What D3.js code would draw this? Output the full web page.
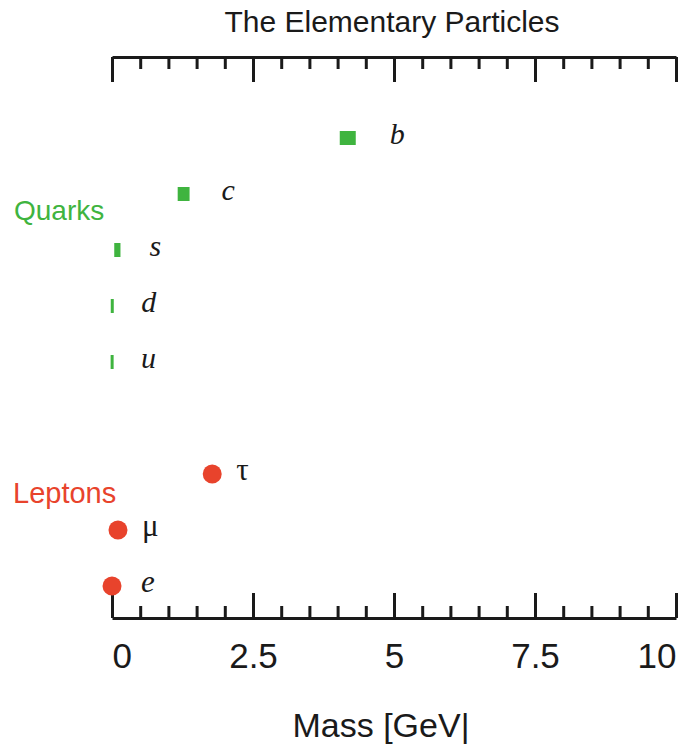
<!DOCTYPE html>
<html>
<head>
<meta charset="utf-8">
<script src="https://cdn.jsdelivr.net/npm/d3@7"></script>
<style>
  body { margin: 0; background: #fff; }
  svg { display: block; }
</style>
</head>
<body>
<div id="chart"></div>
<script>
// Chart values
var quarkNames = ["u", "d", "s", "c", "b"];
var quarkMass = [0.0022, 0.0047, 0.095, 1.27, 4.18]; // GeV
var leptonNames = ["e", "μ", "τ"];
var leptonMass = [0.000511, 0.106, 1.777]; // GeV
var rowOrder = ["e", "μ", "τ", " ", "u", "d", "s", "c", "b"]; // bottom to top, blank row as gap
var majorTicks = [0, 2.5, 5, 7.5, 10];
var minorTicks = d3.range(0.5, 10, 0.5).filter(function(d) { return d % 2.5 !== 0; });

var width = 691, height = 746;
var green = "#3fb43f", red = "#e8432c", ink = "#1a1a1a";

var svg = d3.select("#chart").append("svg")
  .attr("width", width)
  .attr("height", height);

var x = d3.scaleLinear().domain([0, 10]).range([112, 676]);
var y = d3.scalePoint().domain(rowOrder).range([586, 138]);
// rectangle width for quarks grows with mass
var w = d3.scalePow().exponent(0.25).domain([0, 4.18]).range([0, 16]);

var topY = 57, bottomY = 618;

// Top axis: ticks pointing down, no labels
svg.append("g")
  .attr("class", "axis top")
  .attr("transform", "translate(0," + topY + ")")
  .call(d3.axisTop(x).tickValues(majorTicks).tickSizeInner(-25).tickSizeOuter(0).tickFormat(""));
svg.append("g")
  .attr("class", "axis top minor")
  .attr("transform", "translate(0," + topY + ")")
  .call(d3.axisTop(x).tickValues(minorTicks).tickSizeInner(-12).tickSizeOuter(0).tickFormat(""))
  .select(".domain").remove();

// Bottom axis: ticks pointing up, labels below
var bottom = svg.append("g")
  .attr("class", "axis bottom")
  .attr("transform", "translate(0," + bottomY + ")")
  .call(d3.axisBottom(x).tickValues(majorTicks).tickSizeInner(-25).tickSizeOuter(0)
    .tickPadding(25).tickFormat(function(d) { return d3.format("")(d); }));
svg.append("g")
  .attr("class", "axis bottom minor")
  .attr("transform", "translate(0," + bottomY + ")")
  .call(d3.axisBottom(x).tickValues(minorTicks).tickSizeInner(-12).tickSizeOuter(0).tickFormat(""))
  .select(".domain").remove();

svg.selectAll(".axis path, .axis line")
  .attr("stroke", ink)
  .attr("stroke-width", 3);

bottom.selectAll(".tick text")
  .attr("fill", ink)
  .style("font-family", "Liberation Sans, Arial, sans-serif")
  .style("font-size", "35px")
  .attr("text-anchor", function(d) { return d === 0 ? "start" : (d === 10 ? "end" : "middle"); });

// Title
svg.append("text")
  .attr("x", 392)
  .attr("y", 32)
  .attr("text-anchor", "middle")
  .attr("fill", ink)
  .style("font-family", "Liberation Sans, Arial, sans-serif")
  .style("font-size", "30px")
  .text("The Elementary Particles");

// X axis title
svg.append("text")
  .attr("x", 381)
  .attr("y", 737)
  .attr("text-anchor", "middle")
  .attr("fill", ink)
  .style("font-family", "Liberation Sans, Arial, sans-serif")
  .style("font-size", "34px")
  .text("Mass [GeV|");

// Group labels
svg.append("text")
  .attr("x", 14)
  .attr("y", 220)
  .attr("fill", green)
  .style("font-family", "Liberation Sans, Arial, sans-serif")
  .style("font-size", "28px")
  .text("Quarks");

svg.append("text")
  .attr("x", 13)
  .attr("y", 503)
  .attr("fill", red)
  .style("font-family", "Liberation Sans, Arial, sans-serif")
  .style("font-size", "29px")
  .text("Leptons");

// Quarks: green rectangles
var quarks = quarkNames.map(function(n, i) { return { name: n, mass: quarkMass[i] }; });
svg.selectAll(".quark")
  .data(quarks)
  .enter().append("rect")
  .attr("class", "quark")
  .attr("x", function(d) { return x(d.mass) - Math.max(w(d.mass), 3) / 2; })
  .attr("y", function(d) { return y(d.name) - 7; })
  .attr("width", function(d) { return Math.max(w(d.mass), 3); })
  .attr("height", 14)
  .attr("fill", green);

svg.selectAll(".quark-label")
  .data(quarks)
  .enter().append("text")
  .attr("class", "quark-label")
  .attr("x", function(d) { return x(d.mass) + 26 + Math.max(w(d.mass), 3); })
  .attr("y", function(d) { return y(d.name) + 6; })
  .attr("fill", ink)
  .style("font-family", "Liberation Serif, Times New Roman, serif")
  .style("font-style", "italic")
  .style("font-size", "30px")
  .text(function(d) { return d.name; });

// Leptons: red circles
var leptons = leptonNames.map(function(n, i) { return { name: n, mass: leptonMass[i] }; });
svg.selectAll(".lepton")
  .data(leptons)
  .enter().append("circle")
  .attr("class", "lepton")
  .attr("cx", function(d) { return x(d.mass); })
  .attr("cy", function(d) { return y(d.name); })
  .attr("r", 9.5)
  .attr("fill", red);

svg.selectAll(".lepton-label")
  .data(leptons)
  .enter().append("text")
  .attr("class", "lepton-label")
  .attr("x", function(d) { return x(d.mass) + (d.name === "e" ? 29 : 24); })
  .attr("y", function(d) { return y(d.name) + 6; })
  .attr("fill", ink)
  .style("font-family", "Liberation Serif, Times New Roman, serif")
  .style("font-style", function(d) { return d.name === "e" ? "italic" : "normal"; })
  .style("font-size", "31px")
  .text(function(d) { return d.name; });
</script>
</body>
</html>
